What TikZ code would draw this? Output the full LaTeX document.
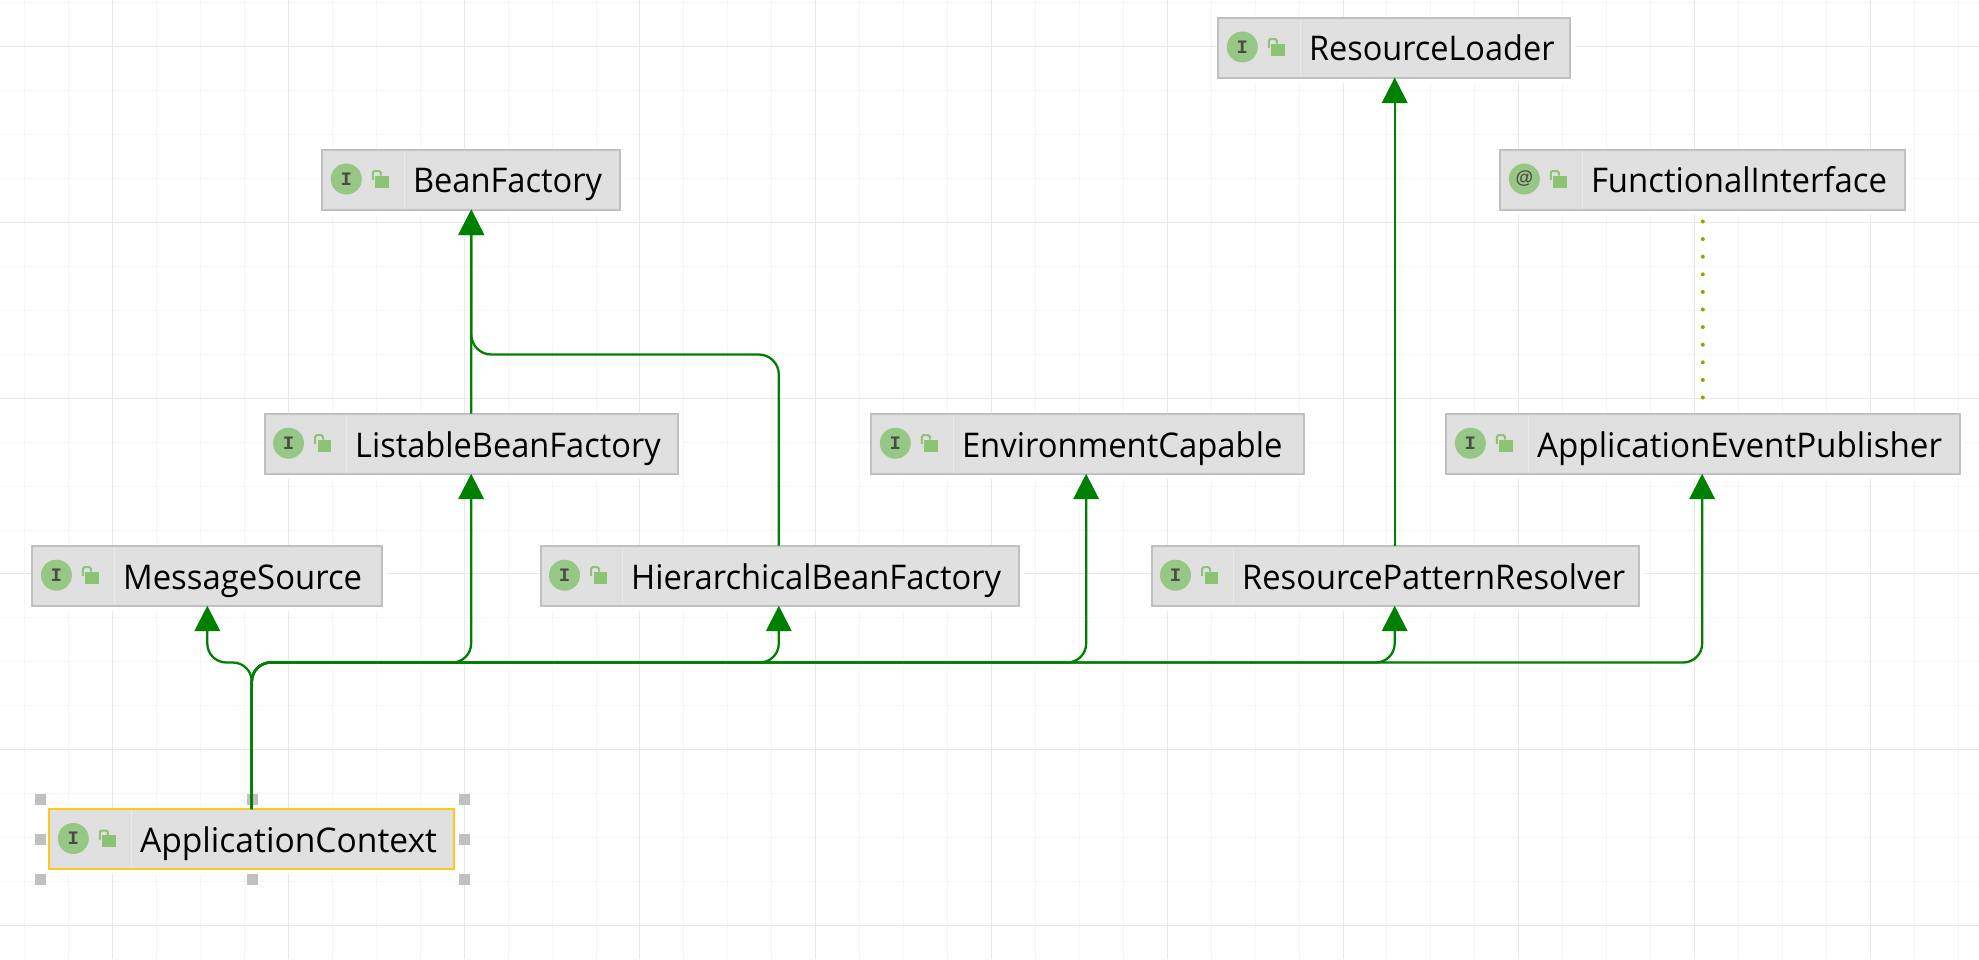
\documentclass[tikz,border=0pt]{standalone}
\usepackage{fontspec}
\usepackage{graphicx}
\setmainfont{Open Sans}
\newfontfamily\glyphfont{Liberation Mono}
\newfontfamily\atfont{Liberation Sans}
\usetikzlibrary{arrows.meta}
\definecolor{gridminor}{HTML}{F5F5F5}
\definecolor{gridmajor}{HTML}{E8E8E8}
\definecolor{boxfill}{HTML}{E0E0E0}
\definecolor{boxline}{HTML}{C0C0C0}
\definecolor{divline}{HTML}{EAEAEA}
\definecolor{selline}{HTML}{FFC81E}
\definecolor{iconfill}{HTML}{96C784}
\definecolor{lockfill}{HTML}{8CC474}
\definecolor{inhgreen}{HTML}{008000}
\definecolor{dotgreen}{HTML}{9E9E00}
\definecolor{handlegray}{HTML}{C0C0C0}
\definecolor{glyphgray}{HTML}{4A4A4A}
\tikzset{
  x=1pt,y=-1pt,
  ifacebox/.style={draw=boxline,fill=boxfill,line width=2pt,inner sep=0pt,outer sep=0pt,minimum height=60pt},
  selected/.style={draw=selline},
  halo/.style={fill=white},
  divider/.style={draw=divline,line width=1pt},
  iconball/.style={circle,fill=iconfill,inner sep=0pt,outer sep=0pt,minimum size=31pt,text=glyphgray},
  lockbody/.style={fill=lockfill},
  lockbar/.style={draw=lockfill,line width=2pt,rounded corners=1.5pt},
  classname/.style={anchor=base west,inner sep=0pt,outer sep=0pt,font=\fontsize{34}{34}\selectfont,text=black},
  inherit/.style={draw=inhgreen,line width=2.3pt,-{Triangle[length=25.5pt,width=25.5pt]}},
  annotated/.style={draw=dotgreen,line width=4pt,line cap=round,dash pattern=on 0pt off 17.6pt},
  handle/.style={fill=handlegray},
  gridthin/.style={draw=gridminor,line width=1pt},
  gridthick/.style={draw=gridmajor,line width=1pt},
}
\newcommand{\ifacenode}[8][]{% opts, name, left, right, top, glyph, label, label width
  \fill[halo] ({#3},{#5}) rectangle ({#4+4},{#5+66});
  \node[ifacebox,#1,minimum width={#4-#3-2}] (#2) at ({(#3+#4)/2},{#5+31}) {};
  \draw[divider] ({#3+83},{#5+2}) -- ({#3+83},{#5+60});
  \node[iconball] (#2icon) at ({#3+25},{#5+30.5}) {#6};
  \fill[lockbody] ({#3+54},{#5+27}) rectangle ({#3+67.8},{#5+39});
  \draw[lockbar] ({#3+51.5},{#5+31.5}) -- ({#3+51.5},{#5+22.5}) -- ({#3+59.5},{#5+22.5}) -- ({#3+59.5},{#5+27});
  \node[classname] (#2label) at ({#3+91.7},{#5+44.4}) {\resizebox{#8pt}{\height}{#7}};
}
\newcommand{\ifaceI}{{\glyphfont\bfseries\fontsize{19}{19}\selectfont I}}
\newcommand{\ifaceAt}{{\atfont\bfseries\fontsize{18}{18}\selectfont @}}
\begin{document}
\begin{tikzpicture}
\useasboundingbox (0,0) rectangle (1979,959);
\fill[white] (0,0) rectangle (1979,959);
% grid
\foreach \k in {-2,...,43} {
  \pgfmathsetmacro{\gx}{floor(112.7+\k*43.94)+0.5}
  \draw[gridthin] (\gx,0) -- (\gx,959);
}
\foreach \k in {-1,...,21} {
  \pgfmathsetmacro{\gy}{floor(46.7+\k*43.94)+0.5}
  \draw[gridthin] (0,\gy) -- (1979,\gy);
}
\foreach \k in {0,...,10} {
  \pgfmathsetmacro{\gx}{floor(112.7+\k*175.76)+0.5}
  \draw[gridthick] (\gx,0) -- (\gx,959);
}
\foreach \k in {0,...,5} {
  \pgfmathsetmacro{\gy}{floor(46.7+\k*175.76)+0.5}
  \draw[gridthick] (0,\gy) -- (1979,\gy);
}
% nodes
\ifacenode{loader}{1217.3}{1571.3}{16.5}{\ifaceI}{ResourceLoader}{245.5}
\ifacenode{bean}{321.3}{621.3}{148.5}{\ifaceI}{BeanFactory}{189}
\ifacenode{fi}{1499.3}{1906.3}{148.5}{\ifaceAt}{FunctionalInterface}{296}
\ifacenode{listable}{263.5}{678.8}{412.7}{\ifaceI}{ListableBeanFactory}{305.5}
\ifacenode{env}{870.3}{1304.6}{412.7}{\ifaceI}{EnvironmentCapable}{320.5}
\ifacenode{aep}{1445.4}{1960.5}{412.7}{\ifaceI}{ApplicationEventPublisher}{405}
\ifacenode{msg}{31.4}{383.2}{544.7}{\ifaceI}{MessageSource}{239}
\ifacenode{hier}{539.5}{1019.5}{544.7}{\ifaceI}{HierarchicalBeanFactory}{370}
\ifacenode{rpr}{1150.5}{1639.7}{544.7}{\ifaceI}{ResourcePatternResolver}{383}
\ifacenode[selected]{ctx}{48.3}{455.3}{808}{\ifaceI}{ApplicationContext}{297}
% selection handles
\foreach \hx in {40,252.3,464.3} {
  \foreach \hy in {799.7,839.3,879} {
    \ifnum\pdfstrcmp{\hx,\hy}{252.3,839.3}=0\else
      \fill[handle] ({\hx-5.5},{\hy-5.5}) rectangle ({\hx+5.5},{\hy+5.5});
    \fi
  }
}
% connectors
\coordinate (bus) at (0,662.5);
\coordinate (hbus) at (0,354.5);
\foreach \tgt/\dx in {msg/0,listable/0,hier/-0.7,env/-1.3,rpr/-0.4,aep/-0.8} {
  \draw[inherit,rounded corners=19pt] (ctx.north) -- (ctx.north |- bus) -- ([xshift=\dx pt]\tgt.south |- bus) -- ([xshift=\dx pt]\tgt.south);
}
\draw[inherit] (listable.north) -- (bean.south);
\draw[inherit,rounded corners=20pt] ([xshift=-0.7pt]hier.north) -- ([xshift=-0.7pt]hier.north |- hbus) -- (bean.south |- hbus) -- (bean.south);
\draw[inherit] ([xshift=-0.4pt]rpr.north) -- ([xshift=-0.4pt]rpr.north |- loader.south);
\draw[annotated,shorten <=12pt,shorten >=14pt] (fi.south) -- (fi.south |- aep.north);
\end{tikzpicture}
\end{document}
